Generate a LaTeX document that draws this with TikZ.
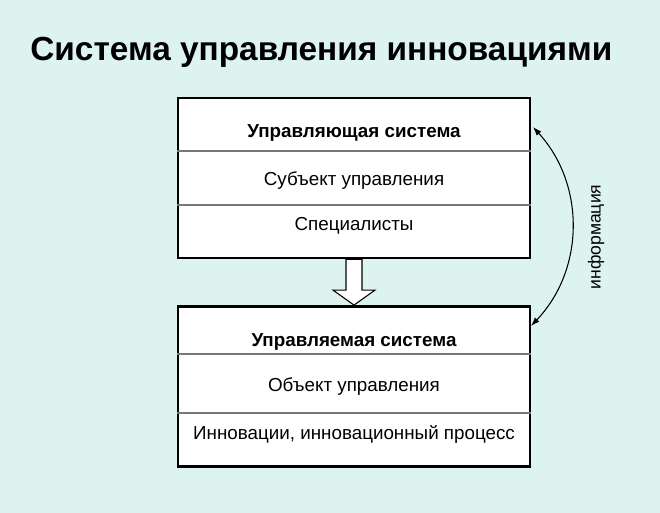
\documentclass[tikz,border=0pt]{standalone}
\usepackage{fontspec}
\setmainfont{Liberation Sans}
\usetikzlibrary{calc}
\usetikzlibrary{arrows.meta}
\definecolor{bgmint}{RGB}{221,243,239}
\definecolor{rulegray}{RGB}{120,120,120}
\tikzset{sysbox/.style = {shape=rectangle,draw,line width=1.6pt,fill=white,minimum width=7.04cm,minimum height=3.2cm}}
\tikzset{headtext/.style = {font=\fontsize{10.7}{13}\selectfont\bfseries,inner sep=0pt}}
\tikzset{rowtext/.style = {font=\fontsize{10.7}{13}\selectfont,inner sep=0pt}}
\tikzset{rowline/.style = {draw=rulegray,line width=0.6pt}}
\tikzset{blockarrow/.style = {draw,fill=white,line width=0.6pt,line join=miter}}
\tikzset{infoarrow/.style = {{Latex[length=5pt,width=3.5pt]}-{Latex[length=5pt,width=3.5pt]},line width=0.6pt}}

\begin{document}
\begin{tikzpicture}[x=0.02cm,y=-0.02cm]
                \fill[bgmint] (0,0) rectangle (660,513);
                \useasboundingbox (0,0) rectangle (660,513);

                \node[font=\fontsize{19}{23}\selectfont\bfseries,anchor=base west,inner sep=0pt] (title) at (30,61) {Система управления инновациями};

                \node[sysbox] (upper) at (354,178) {};
                \node[sysbox] (lower) at (354,386.5) {};

                \draw[rowline] (upper.west |- 0,151) -- (upper.east |- 0,151);
                \draw[rowline] (upper.west |- 0,205) -- (upper.east |- 0,205);
                \draw[rowline] (lower.west |- 0,354) -- (lower.east |- 0,354);
                \draw[rowline] (lower.west |- 0,413) -- (lower.east |- 0,413);

                \node[headtext] (uhead) at (354,133) {Управляющая система};
                \node[rowtext] (usubj) at (354,181) {Субъект управления};
                \node[rowtext] (uspec) at (354,226) {Специалисты};
                \node[headtext] (lhead) at (354,342) {Управляемая система};
                \node[rowtext] (lobj) at (354,387) {Объект управления};
                \node[rowtext] (linno) at (354,434) {Инновации, инновационный процесс};

                \draw[blockarrow] ($(upper.south)+(-8,0)$) -- ($(upper.south)+(8,0)$) -- ($(lower.north)+(8,-15)$) -- ($(lower.north)+(21,-15)$) -- (lower.north) -- ($(lower.north)+(-21,-15)$) -- ($(lower.north)+(-8,-15)$) -- cycle;

                \coordinate (infotop) at (533,127);
                \coordinate (infobot) at (531,326);
                \draw[infoarrow] (infotop) to[bend left=43] (infobot);
                \node[rowtext,font=\fontsize{10}{12}\selectfont,rotate=90] (info) at (596,237) {информация};
            \end{tikzpicture}
\end{document}
